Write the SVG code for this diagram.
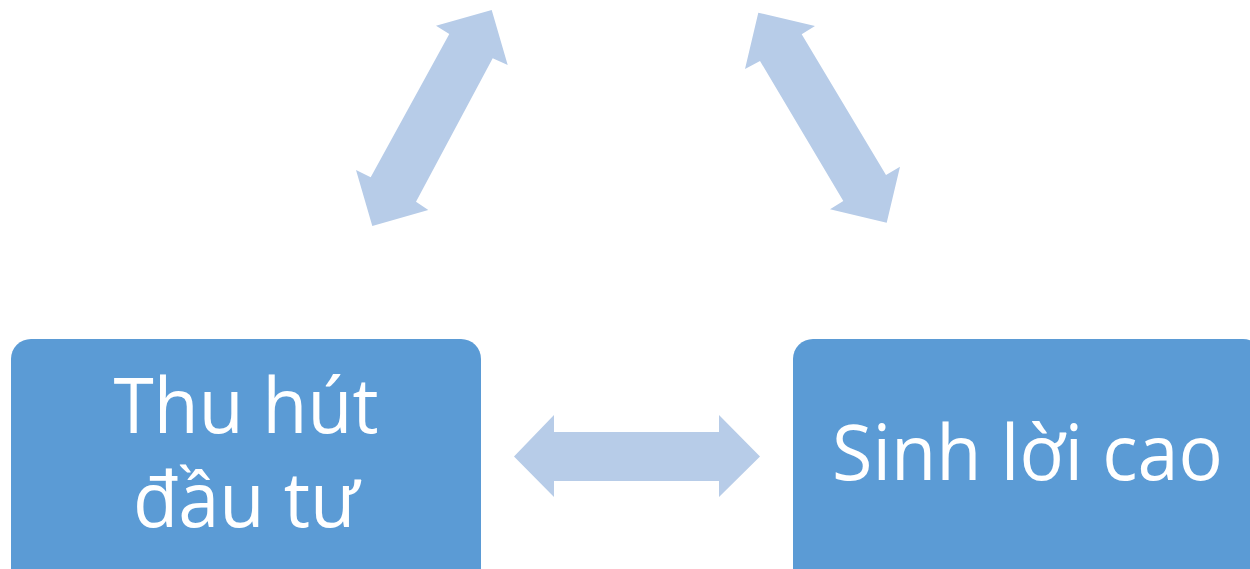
<svg xmlns="http://www.w3.org/2000/svg" width="1250" height="569" viewBox="0 0 1250 569">
<style>
.box{fill:#5B9BD5}
.arr{fill:#B7CCE8}
.lbl{font-family:"Open Sans","Noto Sans","DejaVu Sans",sans-serif;font-size:76px;fill:#FFFFFF;text-anchor:middle}
</style>
<rect width="1250" height="569" fill="#FFFFFF"/>
<g id="connectors">
<polygon class="arr" points="491.7,10 507.7,65 492.7,58.3 416,201.7 428.3,210 372.3,226 356,170 370.7,177.3 449.3,34 436,25.7"/>
<polygon class="arr" points="758.3,12.7 815,26 801.7,34.3 886,175 900,166.7 886.7,222.7 830,209.3 843.3,201 760,61 745,69"/>
<polygon class="arr" points="514,456.5 554,415 554,432 719,432 719,415 760,456.5 719,497 719,481 554,481 554,497"/>
</g>
<g id="node-thu-hut">
<rect class="box" x="11" y="339" width="470" height="250" rx="20" ry="20"/>
<text class="lbl" x="246" y="433" textLength="265" lengthAdjust="spacingAndGlyphs">Thu hút</text>
<text class="lbl" x="246" y="527" textLength="226" lengthAdjust="spacingAndGlyphs">đầu tư</text>
</g>
<g id="node-sinh-loi">
<rect class="box" x="793" y="339" width="470" height="250" rx="20" ry="20"/>
<text class="lbl" x="1027.5" y="480" textLength="391" lengthAdjust="spacingAndGlyphs">Sinh lời cao</text>
</g>
</svg>
